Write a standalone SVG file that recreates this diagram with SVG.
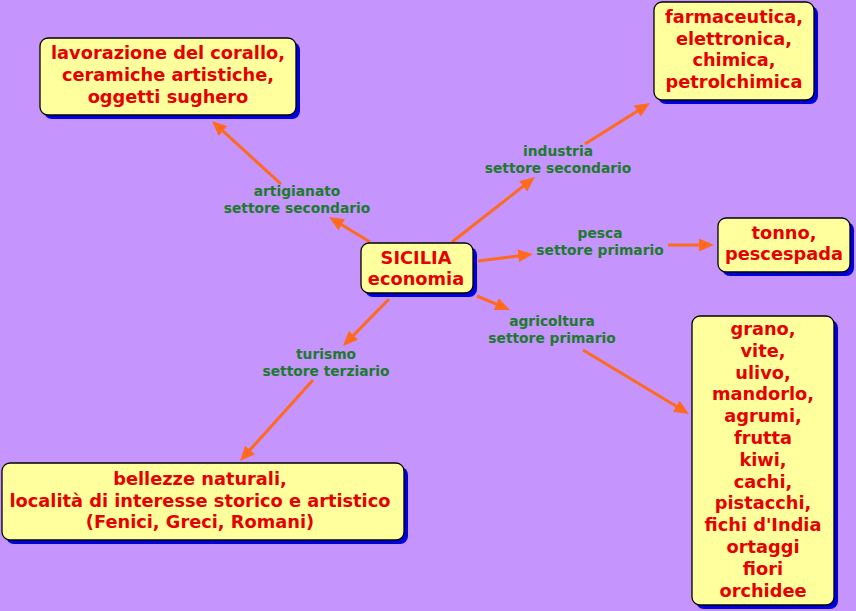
<svg xmlns="http://www.w3.org/2000/svg" width="856" height="611" viewBox="0 0 856 611">
<defs>
<style>
.bg{fill:#c594fd}
.sh{fill:#0000d8}
.box{fill:#ffff9e;stroke:#000;stroke-width:1.3}
.t{font-family:"DejaVu Sans","Liberation Sans",sans-serif;font-weight:bold;font-size:17.8px;fill:#e60000;text-anchor:middle}
.l{font-family:"DejaVu Sans","Liberation Sans",sans-serif;font-weight:bold;font-size:13.8px;fill:#1d7a2c;text-anchor:middle}
.c{stroke:#ff6a1c;stroke-width:3;fill:none;marker-end:url(#ah)}
</style>
<marker id="ah" markerWidth="16" markerHeight="14" refX="4" refY="6.5" orient="auto" markerUnits="userSpaceOnUse">
<path d="M0,0 L15,6.5 L0,13 z" fill="#ff6a1c"/>
</marker>
</defs>
<rect class="bg" x="0" y="0" width="856" height="611"/>
<g id="connectors">
<line class="c" x1="370" y1="242" x2="338.4" y2="222.7"/>
<line class="c" x1="281" y1="184" x2="220.1" y2="128.4"/>
<line class="c" x1="452" y1="242" x2="526.3" y2="183.8"/>
<line class="c" x1="585" y1="144" x2="640.7" y2="108.9"/>
<line class="c" x1="478" y1="261" x2="522.1" y2="255.4"/>
<line class="c" x1="668" y1="245" x2="703" y2="245"/>
<line class="c" x1="477" y1="296" x2="499.9" y2="305.7"/>
<line class="c" x1="583" y1="350" x2="679.6" y2="408.3"/>
<line class="c" x1="389" y1="299" x2="350.7" y2="338.1"/>
<line class="c" x1="313" y1="380" x2="247.4" y2="452.8"/>
</g>
<g id="labels">
<g id="lab-artigianato"><text class="l" x="297" y="196">artigianato</text><text class="l" x="297" y="213">settore secondario</text></g>
<g id="lab-industria"><text class="l" x="558" y="156">industria</text><text class="l" x="558" y="173">settore secondario</text></g>
<g id="lab-pesca"><text class="l" x="600" y="238">pesca</text><text class="l" x="600" y="255">settore primario</text></g>
<g id="lab-agricoltura"><text class="l" x="552" y="326">agricoltura</text><text class="l" x="552" y="343">settore primario</text></g>
<g id="lab-turismo"><text class="l" x="326" y="359">turismo</text><text class="l" x="326" y="376">settore terziario</text></g>
</g>
<g id="n-sicilia">
<rect class="sh" x="365" y="247" width="112" height="50" rx="8"/>
<rect class="box" x="361" y="243" width="112" height="50" rx="8"/>
<text class="t" x="416" y="264">SICILIA</text><text class="t" x="416" y="285">economia</text>
</g>
<g id="n-artigianato">
<rect class="sh" x="44" y="42" width="256" height="77" rx="8"/>
<rect class="box" x="40" y="38" width="256" height="77" rx="8"/>
<text class="t" x="168" y="59">lavorazione del corallo,</text><text class="t" x="168" y="81">ceramiche artistiche,</text><text class="t" x="168" y="103">oggetti sughero</text>
</g>
<g id="n-industria">
<rect class="sh" x="658" y="6" width="160" height="98" rx="8"/>
<rect class="box" x="654" y="2" width="160" height="98" rx="8"/>
<text class="t" x="734" y="23">farmaceutica,</text><text class="t" x="734" y="45">elettronica,</text><text class="t" x="734" y="66">chimica,</text><text class="t" x="734" y="88">petrolchimica</text>
</g>
<g id="n-pesca">
<rect class="sh" x="722" y="222" width="132" height="54" rx="8"/>
<rect class="box" x="718" y="218" width="132" height="54" rx="8"/>
<text class="t" x="784" y="239">tonno,</text><text class="t" x="784" y="260">pescespada</text>
</g>
<g id="n-turismo">
<rect class="sh" x="6" y="467" width="402" height="77" rx="8"/>
<rect class="box" x="2" y="463" width="402" height="77" rx="8"/>
<text class="t" x="200" y="485">bellezze naturali,</text><text class="t" x="200" y="507">località di interesse storico e artistico</text><text class="t" x="200" y="528">(Fenici, Greci, Romani)</text>
</g>
<g id="n-agricoltura">
<rect class="sh" x="696" y="320" width="142" height="289" rx="8"/>
<rect class="box" x="692" y="316" width="142" height="289" rx="8"/>
<text class="t" x="763" y="335">grano,</text><text class="t" x="763" y="357">vite,</text><text class="t" x="763" y="379">ulivo,</text><text class="t" x="763" y="400">mandorlo,</text><text class="t" x="763" y="422">agrumi,</text><text class="t" x="763" y="444">frutta</text><text class="t" x="763" y="466">kiwi,</text><text class="t" x="763" y="488">cachi,</text><text class="t" x="763" y="509">pistacchi,</text><text class="t" x="763" y="531">fichi d'India</text><text class="t" x="763" y="553">ortaggi</text><text class="t" x="763" y="575">fiori</text><text class="t" x="763" y="597">orchidee</text>
</g>
</svg>
